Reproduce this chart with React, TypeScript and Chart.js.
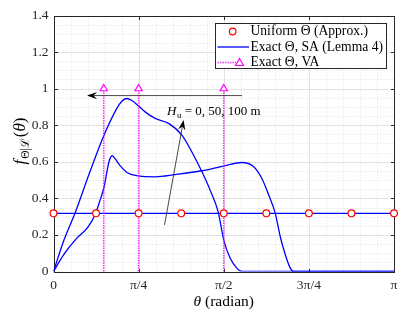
import React, { useEffect, useRef } from "react";
import { Chart, registerables } from "chart.js";

Chart.register(...registerables);

const PI = Math.PI;
const SERIF = "'Liberation Serif', 'DejaVu Serif', serif";

// x values are stored in units of π
const xTickValues = [0, 0.25, 0.5, 0.75, 1];
const xTickLabels = ["0", "π/4", "π/2", "3π/4", "π"];
const yTickValues = [0, 0.2, 0.4, 0.6, 0.8, 1, 1.2, 1.4];
const yTickLabels = ["0", "0.2", "0.4", "0.6", "0.8", "1", "1.2", "1.4"];

// Uniform Θ (Approx.)
const uniformTheta = [0, 0.125, 0.25, 0.375, 0.5, 0.625, 0.75, 0.875, 1];
const uniformVals = [0.318, 0.318, 0.318, 0.318, 0.318, 0.318, 0.318, 0.318, 0.318];

// Exact Θ, SA — H_u = 0 m
const saH0Theta = [0, 1];
const saH0Vals = [0.318, 0.318];

// Exact Θ, SA — H_u = 50 m
const saH50Theta = [0, 0.029, 0.068, 0.1, 0.122, 0.135, 0.1485, 0.163, 0.172, 0.183, 0.196, 0.22, 0.25, 0.2985, 0.357, 0.436, 0.501, 0.553, 0.588, 0.612, 0.632, 0.651, 0.666, 0.681, 0.695, 0.705, 1];
const saH50Vals = [0, 0.09, 0.181, 0.24, 0.31, 0.38, 0.462, 0.6, 0.633, 0.612, 0.578, 0.537, 0.523, 0.518, 0.53, 0.551, 0.578, 0.596, 0.573, 0.509, 0.418, 0.321, 0.19, 0.09, 0.02, 0, 0];

// Exact Θ, SA — H_u = 100 m
const saH100Theta = [0, 0.029, 0.063, 0.107, 0.1485, 0.186, 0.2, 0.215, 0.23, 0.25, 0.269, 0.2985, 0.338, 0.377, 0.406, 0.436, 0.46, 0.483, 0.501, 0.519, 0.539, 0.553, 1];
const saH100Vals = [0, 0.163, 0.318, 0.545, 0.746, 0.892, 0.93, 0.946, 0.935, 0.905, 0.873, 0.837, 0.81, 0.746, 0.655, 0.545, 0.445, 0.33, 0.165, 0.072, 0.017, 0, 0];

// Exact Θ, VA (impulses)
const vaTheta = [0.1476, 0.25, 0.5];
const vaPeak = [1, 1, 1];

// Annotations (data units, θ in units of π)
const hArrow = { fromX: 0.5535, fromY: 0.962, toX: 0.0985, toY: 0.962 };
const hsArrow = { fromX: 0.326, fromY: 0.254, toX: 0.382, toY: 0.828 };
const hsLabel = { x: 0.3335, y: 0.8825 };

const pts = (xs: number[], ys: number[]) => xs.map((t, i) => ({ x: t * PI, y: ys[i] }));

const MAGENTA = "rgba(255,0,255,0.8)";

function drawArrow(ctx: CanvasRenderingContext2D, x1: number, y1: number, x2: number, y2: number) {
  const ang = Math.atan2(y2 - y1, x2 - x1);
  const dx = Math.cos(ang), dy = Math.sin(ang);
  const px = -dy, py = dx;
  const L = 10, W = 3.6, N = 6.5;
  ctx.beginPath();
  ctx.moveTo(x1, y1);
  ctx.lineTo(x2 - dx * N, y2 - dy * N);
  ctx.stroke();
  ctx.beginPath();
  ctx.moveTo(x2, y2);
  ctx.lineTo(x2 - dx * L + px * W, y2 - dy * L + py * W);
  ctx.lineTo(x2 - dx * N, y2 - dy * N);
  ctx.lineTo(x2 - dx * L - px * W, y2 - dy * L - py * W);
  ctx.closePath();
  ctx.fill();
}

const backgroundPlugin = {
  id: "matlabAxes",
  beforeDatasetsDraw(chart: any) {
    const { ctx, chartArea: a, scales } = chart;
    const xs = scales.x, ys = scales.y;
    const rx = (v: number) => Math.round(v) + 0.5;
    ctx.save();
    // minor grid
    ctx.strokeStyle = "#d4d4d4";
    ctx.lineWidth = 0.7;
    ctx.setLineDash([1, 2]);
    for (let k = 1; k < 20; k++) {
      if (k % 5 === 0) continue;
      const px = rx(xs.getPixelForValue((k / 20) * PI));
      ctx.beginPath(); ctx.moveTo(px, a.top); ctx.lineTo(px, a.bottom); ctx.stroke();
    }
    for (let k = 1; k < 28; k++) {
      if (k % 4 === 0) continue;
      const py = rx(ys.getPixelForValue(k * 0.05));
      ctx.beginPath(); ctx.moveTo(a.left, py); ctx.lineTo(a.right, py); ctx.stroke();
    }
    // major grid
    ctx.setLineDash([]);
    ctx.strokeStyle = "#e2e2e2";
    ctx.lineWidth = 1;
    for (const v of xTickValues) {
      const px = rx(xs.getPixelForValue(v * PI));
      ctx.beginPath(); ctx.moveTo(px, a.top); ctx.lineTo(px, a.bottom); ctx.stroke();
    }
    for (const v of yTickValues) {
      const py = rx(ys.getPixelForValue(v));
      ctx.beginPath(); ctx.moveTo(a.left, py); ctx.lineTo(a.right, py); ctx.stroke();
    }
    // box
    ctx.strokeStyle = "#262626";
    ctx.lineWidth = 1;
    const L = rx(a.left), R = rx(a.right), T = rx(a.top), B = rx(a.bottom);
    ctx.strokeRect(L, T, R - L, B - T);
    // inward ticks
    const tl = 3.5;
    for (const v of xTickValues) {
      const px = rx(xs.getPixelForValue(v * PI));
      ctx.beginPath();
      ctx.moveTo(px, B); ctx.lineTo(px, B - tl);
      ctx.moveTo(px, T); ctx.lineTo(px, T + tl);
      ctx.stroke();
    }
    for (const v of yTickValues) {
      const py = rx(ys.getPixelForValue(v));
      ctx.beginPath();
      ctx.moveTo(L, py); ctx.lineTo(L + tl, py);
      ctx.moveTo(R, py); ctx.lineTo(R - tl, py);
      ctx.stroke();
    }
    ctx.restore();
  },
  afterDatasetsDraw(chart: any) {
    const { ctx, chartArea: a, scales } = chart;
    const xs = scales.x, ys = scales.y;
    ctx.save();
    // arrows
    ctx.strokeStyle = "#1a1a1a";
    ctx.fillStyle = "#000";
    ctx.lineWidth = 0.8;
    drawArrow(ctx,
      xs.getPixelForValue(hArrow.fromX * PI), ys.getPixelForValue(hArrow.fromY),
      xs.getPixelForValue(hArrow.toX * PI), ys.getPixelForValue(hArrow.toY));
    drawArrow(ctx,
      xs.getPixelForValue(hsArrow.fromX * PI), ys.getPixelForValue(hsArrow.fromY),
      xs.getPixelForValue(hsArrow.toX * PI), ys.getPixelForValue(hsArrow.toY));

    // H_u label
    let tx = xs.getPixelForValue(hsLabel.x * PI);
    const ty = ys.getPixelForValue(hsLabel.y);
    ctx.fillStyle = "#000";
    ctx.textBaseline = "alphabetic";
    ctx.textAlign = "left";
    const base = ty + 4.5;
    ctx.font = `italic 13px ${SERIF}`;
    ctx.fillText("H", tx, base); tx += ctx.measureText("H").width + 0.5;
    ctx.font = `9px ${SERIF}`;
    ctx.fillText("u", tx, base + 3); tx += ctx.measureText("u").width;
    ctx.font = `13px ${SERIF}`;
    ctx.fillText(" = 0, 50, 100 m", tx, base);

    // legend
    const bl = 215.5, br = 386.5, bt = 23.5, bb = 68.5;
    ctx.fillStyle = "#fff";
    ctx.fillRect(bl, bt, br - bl, bb - bt);
    ctx.strokeStyle = "#262626";
    ctx.lineWidth = 1;
    ctx.strokeRect(bl, bt, br - bl, bb - bt);
    const rows = [31.5, 47, 62.5];
    // row 1: circle
    ctx.beginPath();
    ctx.arc(232.7, rows[0], 3.3, 0, 2 * PI);
    ctx.fillStyle = "#fff"; ctx.fill();
    ctx.strokeStyle = "#ff0000"; ctx.lineWidth = 1.2; ctx.stroke();
    // row 2: blue line
    ctx.strokeStyle = "#0000ff"; ctx.lineWidth = 1.3;
    ctx.beginPath(); ctx.moveTo(217.5, rows[1]); ctx.lineTo(249, rows[1]); ctx.stroke();
    // row 3: dotted magenta + triangle
    ctx.strokeStyle = MAGENTA; ctx.lineWidth = 1.6; ctx.setLineDash([1.5, 1]);
    ctx.beginPath(); ctx.moveTo(217.5, rows[2]); ctx.lineTo(236, rows[2]); ctx.stroke();
    ctx.setLineDash([]);
    ctx.strokeStyle = "#ff00ff"; ctx.lineWidth = 1.2;
    ctx.beginPath();
    ctx.moveTo(239.5, rows[2] - 4); ctx.lineTo(243.5, rows[2] + 3); ctx.lineTo(235.5, rows[2] + 3); ctx.closePath();
    ctx.fillStyle = "#fff"; ctx.fill(); ctx.stroke();
    // texts
    ctx.fillStyle = "#000";
    ctx.font = `13.6px ${SERIF}`;
    ctx.textBaseline = "middle";
    ctx.fillText("Uniform Θ (Approx.)", 250.5, rows[0]);
    ctx.fillText("Exact Θ, SA (Lemma 4)", 250.5, rows[1]);
    ctx.fillText("Exact Θ, VA", 250.5, rows[2]);

    // x title
    ctx.textBaseline = "middle";
    const xt1 = "θ", xt2 = " (radian)";
    ctx.font = `italic 15.5px ${SERIF}`;
    const w1 = ctx.measureText(xt1).width;
    ctx.font = `15.5px ${SERIF}`;
    const w2 = ctx.measureText(xt2).width;
    const sx = (a.left + a.right) / 2 - (w1 + w2) / 2;
    ctx.font = `italic 15.5px ${SERIF}`;
    ctx.fillText(xt1, sx, 301.5);
    ctx.font = `15.5px ${SERIF}`;
    ctx.fillText(xt2, sx + w1, 301.5);

    // y title (rotated)
    ctx.translate(21, 141);
    ctx.rotate(-PI / 2);
    const parts: [string, string, number][] = [
      ["f", `italic 17px ${SERIF}`, 0],
      ["Θ|ℒ", `11.5px ${SERIF}`, 4.5],
      ["(", `17px ${SERIF}`, 0],
      ["θ", `italic 17px ${SERIF}`, 0],
      [")", `17px ${SERIF}`, 0],
    ];
    let total = 0;
    for (const [t, f] of parts) { ctx.font = f; total += ctx.measureText(t).width; }
    total += 2;
    let cx = -total / 2;
    ctx.textBaseline = "middle";
    for (const [t, f, dy] of parts) {
      ctx.font = f;
      ctx.fillText(t, cx, dy);
      cx += ctx.measureText(t).width + (t === "f" ? 1 : t === "Θ|ℒ" ? 1 : 0);
    }
    ctx.restore();
  },
};

export default function App() {
  const ref = useRef<HTMLCanvasElement>(null);
  useEffect(() => {
    if (!ref.current) return;
    Chart.defaults.font.family = SERIF;
    const vaData: any[] = [];
    vaTheta.forEach((t, i) => {
      vaData.push({ x: t * PI, y: 0 }, { x: t * PI, y: vaPeak[i] }, { x: t * PI, y: null });
    });
    const blue = {
      borderColor: "#0000ff",
      borderWidth: 1.3,
      pointRadius: 0,
      fill: false,
      cubicInterpolationMode: "monotone" as const,
      order: 3,
    };
    const chart = new Chart(ref.current, {
      type: "line",
      data: {
        datasets: [
          {
            label: "Uniform Θ (Approx.)",
            data: pts(uniformTheta, uniformVals),
            showLine: false,
            pointStyle: "circle",
            pointRadius: 3.4,
            pointBorderWidth: 1.2,
            pointBorderColor: "#ff0000",
            pointBackgroundColor: "#ffffff",
            borderColor: "#ff0000",
            clip: false,
            order: 0,
          } as any,
          { label: "Exact Θ, SA (Lemma 4)", data: pts(saH0Theta, saH0Vals), ...blue },
          { label: "SA 50", data: pts(saH50Theta, saH50Vals), ...blue },
          { label: "SA 100", data: pts(saH100Theta, saH100Vals), ...blue },
          {
            label: "Exact Θ, VA",
            data: vaData,
            borderColor: MAGENTA,
            borderWidth: 1.6,
            borderDash: [1.5, 1],
            spanGaps: false,
            pointStyle: "triangle",
            pointRadius: (c: any) => (c.raw && c.raw.y > 0 ? 4.2 : 0),
            pointBorderColor: "#ff00ff",
            pointBackgroundColor: "#ffffff",
            pointBorderWidth: 1.2,
            clip: false,
            order: 1,
          } as any,
        ],
      },
      options: {
        animation: false,
        responsive: true,
        maintainAspectRatio: false,
        layout: { padding: { left: 0, right: 21, top: 15.5, bottom: 0 } },
        plugins: { legend: { display: false }, tooltip: { enabled: false } },
        scales: {
          x: {
            type: "linear",
            min: 0,
            max: PI,
            grid: { display: false, drawTicks: false, tickLength: 0 },
            border: { display: false },
            afterBuildTicks: (s: any) => {
              s.ticks = xTickValues.map((v) => ({ value: v * PI }));
            },
            afterFit: (s: any) => {
              s.height = 40.5;
            },
            ticks: {
              autoSkip: false,
              maxRotation: 0,
              padding: 6,
              color: "#262626",
              font: { family: SERIF, size: 13.5 },
              callback: (_v: any, i: number) => xTickLabels[i],
            },
          },
          y: {
            type: "linear",
            min: 0,
            max: 1.4,
            grid: { display: false, drawTicks: false, tickLength: 0 },
            border: { display: false },
            afterBuildTicks: (s: any) => {
              s.ticks = yTickValues.map((v) => ({ value: v }));
            },
            afterFit: (s: any) => {
              s.width = 53.5;
            },
            ticks: {
              autoSkip: false,
              padding: 5,
              color: "#262626",
              font: { family: SERIF, size: 13.5 },
              callback: (_v: any, i: number) => yTickLabels[i],
            },
          },
        },
      },
      plugins: [backgroundPlugin as any],
    });
    return () => chart.destroy();
  }, []);
  return (
    <div style={{ position: "fixed", left: 0, top: 0, width: 415, height: 312, background: "#fff" }}>
      <canvas ref={ref} />
    </div>
  );
}
